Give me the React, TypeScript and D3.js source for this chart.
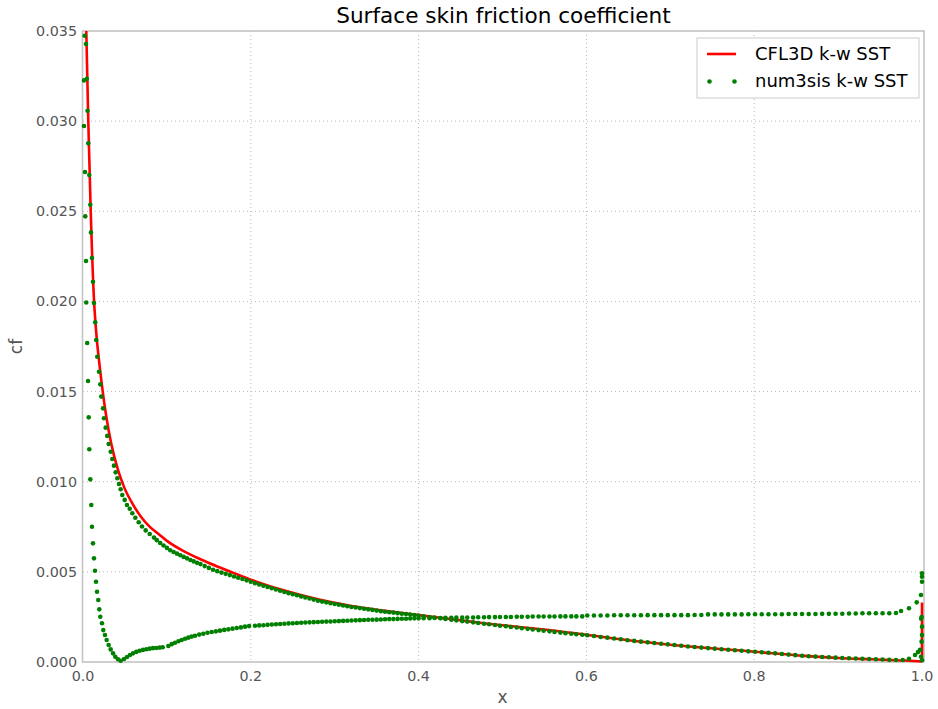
import React from "react";
import * as d3 from "d3";

const xTicks = [0, 0.2, 0.4, 0.6, 0.8, 1.0];
const yTicks = [0, 0.005, 0.01, 0.015, 0.02, 0.025, 0.03, 0.035];

// CFL3D k-w SST (line) - surface part
const cfl3d: [number, number][] = [
  [0.0032, 0.0365], [0.0063, 0.03], [0.0092, 0.025], [0.0131, 0.0201], [0.0159, 0.0182],
  [0.0199, 0.0164], [0.0238, 0.0149], [0.0278, 0.0136], [0.0337, 0.0121], [0.0417, 0.01065],
  [0.049, 0.0097], [0.06, 0.0087], [0.07, 0.008], [0.08, 0.00748], [0.09, 0.0071], [0.1, 0.00672],
  [0.12, 0.00615], [0.14, 0.0057], [0.16, 0.0053], [0.18, 0.00493], [0.2, 0.00457],
  [0.24, 0.00396], [0.28, 0.00348], [0.32, 0.00311], [0.36, 0.00284], [0.4, 0.0026],
  [0.44, 0.00237], [0.48, 0.00214], [0.52, 0.00194], [0.56, 0.00175], [0.6, 0.00151],
  [0.66, 0.00115], [0.72, 0.00087], [0.8, 0.00057], [0.86, 0.00034], [0.9, 0.00022],
  [0.94, 0.00015], [0.98, 0.00008], [1.0, 0.00003],
];
// CFL3D k-w SST (line) - trailing-edge part
const cfl3dTrailing: [number, number][] = [
  [1.0, 0.00003], [1.0, 0.0033],
];

// num3sis k-w SST, upper branch (points)
const num3sisUpper: [number, number][] = [
  [0.0036, 0.03428], [0.0046, 0.03235], [0.0054, 0.03058], [0.0063, 0.02877], [0.0075, 0.02701],
  [0.0087, 0.02536], [0.0095, 0.02383], [0.0107, 0.02241], [0.0119, 0.02109], [0.0131, 0.01991],
  [0.0146, 0.01884], [0.0158, 0.01786], [0.017, 0.01693], [0.0191, 0.0161], [0.0206, 0.0154],
  [0.0218, 0.01472], [0.0238, 0.01407], [0.025, 0.01352], [0.027, 0.013], [0.0289, 0.01254],
  [0.0306, 0.01209], [0.033, 0.01166], [0.0349, 0.01126], [0.0369, 0.01089], [0.0389, 0.01052],
  [0.0409, 0.01019], [0.0429, 0.00987], [0.0449, 0.00958], [0.0468, 0.00926], [0.0497, 0.00899],
  [0.0524, 0.00871], [0.0557, 0.0085], [0.0588, 0.00825], [0.0624, 0.008], [0.0664, 0.00775],
  [0.0703, 0.00752], [0.0747, 0.0073], [0.0795, 0.0071], [0.0846, 0.0069], [0.088, 0.00676],
  [0.092, 0.0066], [0.096, 0.00646], [0.1, 0.00633], [0.104, 0.0062], [0.108, 0.0061],
  [0.112, 0.00601], [0.116, 0.00592], [0.12, 0.00583], [0.124, 0.00575], [0.128, 0.00566],
  [0.132, 0.00558], [0.136, 0.0055], [0.14, 0.00543], [0.145, 0.00532], [0.15, 0.00522],
  [0.155, 0.00512], [0.16, 0.00504], [0.165, 0.00496], [0.17, 0.00489], [0.175, 0.00482],
  [0.18, 0.00474], [0.185, 0.00467], [0.19, 0.0046], [0.195, 0.00453], [0.2, 0.00445],
  [0.205, 0.00437], [0.21, 0.0043], [0.215, 0.00423], [0.22, 0.00416], [0.225, 0.00409],
  [0.23, 0.00402], [0.235, 0.00395], [0.24, 0.00388], [0.245, 0.00382], [0.25, 0.00376],
  [0.255, 0.0037], [0.26, 0.00364], [0.265, 0.00358], [0.27, 0.00352], [0.275, 0.00346],
  [0.28, 0.0034], [0.285, 0.00335], [0.29, 0.00331], [0.295, 0.00326], [0.3, 0.00322],
  [0.305, 0.00318], [0.31, 0.00313], [0.315, 0.00309], [0.32, 0.00305], [0.325, 0.00302],
  [0.33, 0.00299], [0.335, 0.00295], [0.34, 0.00292], [0.345, 0.00289], [0.35, 0.00285],
  [0.355, 0.00282], [0.36, 0.00279], [0.365, 0.00276], [0.37, 0.00274], [0.375, 0.00271],
  [0.38, 0.00268], [0.385, 0.00266], [0.39, 0.00263], [0.395, 0.00261], [0.4, 0.00258],
  [0.406, 0.00254], [0.413, 0.0025], [0.419, 0.00247], [0.426, 0.00243], [0.432, 0.00239],
  [0.439, 0.00235], [0.445, 0.00231], [0.452, 0.00227], [0.458, 0.00224], [0.465, 0.0022],
  [0.471, 0.00216], [0.478, 0.00212], [0.484, 0.00209], [0.491, 0.00205], [0.497, 0.00201],
  [0.504, 0.00198], [0.51, 0.00194], [0.517, 0.00191], [0.523, 0.00187], [0.53, 0.00184],
  [0.536, 0.0018], [0.543, 0.00177], [0.549, 0.00173], [0.556, 0.0017], [0.562, 0.00167],
  [0.569, 0.00163], [0.575, 0.0016], [0.582, 0.00157], [0.588, 0.00154], [0.595, 0.00151],
  [0.601, 0.00148], [0.609, 0.00144], [0.617, 0.00139], [0.625, 0.00135], [0.633, 0.0013],
  [0.641, 0.00126], [0.649, 0.00121], [0.657, 0.00117], [0.665, 0.00113], [0.673, 0.00109],
  [0.681, 0.00105], [0.689, 0.00101], [0.697, 0.00098], [0.705, 0.00094], [0.713, 0.0009],
  [0.721, 0.00086], [0.729, 0.00083], [0.737, 0.0008], [0.745, 0.00077], [0.753, 0.00074],
  [0.761, 0.00071], [0.769, 0.00068], [0.777, 0.00065], [0.785, 0.00062], [0.793, 0.00059],
  [0.801, 0.00057], [0.809, 0.00054], [0.817, 0.00051], [0.825, 0.00048], [0.833, 0.00044],
  [0.841, 0.00041], [0.849, 0.00038], [0.857, 0.00035], [0.865, 0.00032], [0.873, 0.0003],
  [0.881, 0.00028], [0.889, 0.00026], [0.897, 0.00024], [0.905, 0.00022], [0.913, 0.00021],
  [0.921, 0.00019], [0.929, 0.00018], [0.937, 0.00017], [0.945, 0.00015], [0.953, 0.00014],
  [0.961, 0.00012], [0.969, 0.00011], [0.977, 0.00011], [0.9845, 0.00018], [0.9917, 0.00039],
  [0.9952, 0.00055], [0.9976, 0.00067],
];

// num3sis k-w SST, lower branch (points)
const num3sisLower: [number, number][] = [
  [0.002, 0.03474], [0.0012, 0.03226], [0.0012, 0.02973], [0.0024, 0.02718], [0.0027, 0.02472],
  [0.0036, 0.02224], [0.0039, 0.01994], [0.005, 0.01769], [0.006, 0.01559], [0.0068, 0.01357],
  [0.0075, 0.0118], [0.0087, 0.01013], [0.0099, 0.00871], [0.0107, 0.0075], [0.0119, 0.00658],
  [0.0131, 0.00575], [0.0143, 0.00506], [0.0155, 0.00445], [0.0167, 0.0039], [0.0182, 0.00344],
  [0.0194, 0.00292], [0.0206, 0.00251], [0.0226, 0.00215], [0.0242, 0.00177], [0.0262, 0.0015],
  [0.0282, 0.00122], [0.0306, 0.00094], [0.033, 0.0007], [0.0358, 0.00048], [0.0385, 0.00029],
  [0.0417, 0.00015], [0.0449, 0.00007], [0.0489, 0.00017], [0.0525, 0.00028], [0.056, 0.00039],
  [0.0596, 0.00048], [0.0635, 0.00056], [0.0675, 0.00062], [0.0715, 0.00067], [0.0755, 0.00071],
  [0.0795, 0.00074], [0.0835, 0.00077], [0.0875, 0.00078], [0.0915, 0.0008], [0.095, 0.00082],
  [0.1017, 0.00089], [0.1057, 0.00099], [0.1097, 0.00107], [0.1137, 0.00115], [0.1176, 0.00122],
  [0.1216, 0.00129], [0.1255, 0.00135], [0.1295, 0.00141], [0.1335, 0.00146], [0.1385, 0.00152],
  [0.1434, 0.00157], [0.1484, 0.00162], [0.1534, 0.00166], [0.1584, 0.0017], [0.1633, 0.00174],
  [0.1683, 0.00178], [0.1732, 0.00181], [0.1782, 0.00185], [0.1832, 0.00189], [0.1882, 0.00192],
  [0.1931, 0.00196], [0.198, 0.00199], [0.205, 0.00201], [0.21, 0.00203], [0.215, 0.00204],
  [0.22, 0.00206], [0.225, 0.00208], [0.23, 0.00209], [0.235, 0.00211], [0.24, 0.00212],
  [0.245, 0.00214], [0.25, 0.00215], [0.255, 0.00216], [0.26, 0.00218], [0.265, 0.00219],
  [0.27, 0.0022], [0.275, 0.00221], [0.28, 0.00222], [0.285, 0.00223], [0.29, 0.00224],
  [0.295, 0.00225], [0.3, 0.00226], [0.305, 0.00227], [0.31, 0.00228], [0.315, 0.00229],
  [0.32, 0.0023], [0.325, 0.00231], [0.33, 0.00232], [0.335, 0.00233], [0.34, 0.00234],
  [0.345, 0.00234], [0.35, 0.00235], [0.355, 0.00236], [0.36, 0.00237], [0.365, 0.00238],
  [0.37, 0.00238], [0.375, 0.00239], [0.38, 0.0024], [0.385, 0.0024], [0.39, 0.00241],
  [0.395, 0.00242], [0.4, 0.00242], [0.406, 0.00243], [0.413, 0.00243], [0.419, 0.00244],
  [0.426, 0.00244], [0.432, 0.00245], [0.439, 0.00245], [0.445, 0.00246], [0.452, 0.00246],
  [0.458, 0.00247], [0.465, 0.00247], [0.471, 0.00248], [0.478, 0.00248], [0.484, 0.00249],
  [0.491, 0.00249], [0.497, 0.0025], [0.504, 0.0025], [0.51, 0.0025], [0.517, 0.00251],
  [0.523, 0.00251], [0.53, 0.00251], [0.536, 0.00252], [0.543, 0.00252], [0.549, 0.00252],
  [0.556, 0.00252], [0.562, 0.00252], [0.569, 0.00253], [0.575, 0.00253], [0.582, 0.00253],
  [0.588, 0.00253], [0.595, 0.00253], [0.601, 0.00258], [0.609, 0.00258], [0.617, 0.00258],
  [0.625, 0.00258], [0.633, 0.00259], [0.641, 0.00259], [0.649, 0.00259], [0.657, 0.00259],
  [0.665, 0.00259], [0.673, 0.0026], [0.681, 0.0026], [0.689, 0.0026], [0.697, 0.0026],
  [0.705, 0.0026], [0.713, 0.0026], [0.721, 0.0026], [0.729, 0.00261], [0.737, 0.00261],
  [0.745, 0.00264], [0.753, 0.00264], [0.761, 0.00264], [0.769, 0.00264], [0.777, 0.00264],
  [0.785, 0.00264], [0.793, 0.00265], [0.801, 0.00265], [0.809, 0.00265], [0.817, 0.00265],
  [0.825, 0.00265], [0.833, 0.00265], [0.841, 0.00266], [0.849, 0.00266], [0.857, 0.00266],
  [0.865, 0.00266], [0.873, 0.00266], [0.881, 0.00267], [0.889, 0.00267], [0.897, 0.00268],
  [0.905, 0.00268], [0.913, 0.00269], [0.921, 0.00269], [0.929, 0.0027], [0.937, 0.0027],
  [0.945, 0.0027], [0.953, 0.0027], [0.961, 0.0027], [0.969, 0.00272], [0.975, 0.00283],
  [0.9845, 0.00298], [0.9937, 0.00331], [0.9988, 0.00372], [1.0, 0.00445], [1.0, 0.00473],
  [1.0, 0.00492],
];

// num3sis k-w SST, trailing-edge points
const num3sisTrailing: [number, number][] = [
  [0.9995, 0.0025], [0.999, 0.0024], [1.0, 0.00196], [1.0, 0.0015], [0.9995, 0.00113],
  [0.9988, 0.00029], [1.0, 0.0001],
];

const legendLabels = ["CFL3D k-w SST", "num3sis k-w SST"];

const W = 938;
const H = 709;
const L = 83;
const R = 922;
const T = 31;
const B = 662;

export default function App() {
  const x = d3.scaleLinear().domain([0, 1]).range([L, R]);
  const y = d3.scaleLinear().domain([0, 0.035]).range([B, T]);
  const smooth = d3
    .line<[number, number]>()
    .x((d) => x(d[0]))
    .y((d) => y(d[1]))
    .curve(d3.curveMonotoneX);
  const straight = d3
    .line<[number, number]>()
    .x((d) => x(d[0]))
    .y((d) => y(d[1]));
  const fmtX = d3.format(".1f");
  const fmtY = d3.format(".3f");
  const gridColor = "#b8b8b8";
  const tickColor = "#555555";
  const font = "DejaVu Sans, sans-serif";
  const green = "#008000";
  const points = [...num3sisUpper, ...num3sisLower, ...num3sisTrailing];

  return (
    <svg
      width={W}
      height={H}
      style={{ position: "absolute", left: 0, top: 0, background: "#fff" }}
      fontFamily={font}
    >
      <defs>
        <clipPath id="plotclip">
          <rect x={L - 4} y={T} width={R - L + 8} height={B - T + 1} />
        </clipPath>
      </defs>
      <rect x={0} y={0} width={W} height={H} fill="#fff" />
      {/* grid */}
      {xTicks.slice(1, -1).map((t) => (
        <line
          key={"gx" + t}
          x1={x(t)}
          x2={x(t)}
          y1={T}
          y2={B}
          stroke={gridColor}
          strokeWidth={1}
          strokeDasharray="1,3"
        />
      ))}
      {yTicks.slice(1, -1).map((t) => (
        <line
          key={"gy" + t}
          x1={L}
          x2={R}
          y1={y(t)}
          y2={y(t)}
          stroke={gridColor}
          strokeWidth={1}
          strokeDasharray="1,3"
        />
      ))}
      {/* frame */}
      <rect x={L - 0.5} y={T} width={R - L + 2.5} height={B - T} fill="none" stroke="#c4c4c4" strokeWidth={1.6} />
      {/* data */}
      <g clipPath="url(#plotclip)">
        <path d={smooth(cfl3d) || ""} fill="none" stroke="#ff0000" strokeWidth={2.6} strokeLinejoin="round" />
        <path d={straight(cfl3dTrailing) || ""} fill="none" stroke="#ff0000" strokeWidth={2.6} />
        {points.map((d, i) => (
          <circle key={i} cx={x(d[0])} cy={y(d[1])} r={2.3} fill={green} />
        ))}
      </g>
      {/* tick labels */}
      {xTicks.map((t) => (
        <text key={"tx" + t} x={x(t)} y={681} textAnchor="middle" fontSize={14.3} fill={tickColor}>
          {fmtX(t)}
        </text>
      ))}
      {yTicks.map((t) => (
        <text key={"ty" + t} x={77} y={y(t) + 5} textAnchor="end" fontSize={14.3} fill={tickColor}>
          {fmtY(t)}
        </text>
      ))}
      {/* axis labels */}
      <text x={(L + R) / 2} y={703} textAnchor="middle" fontSize={17} fill={tickColor}>
        x
      </text>
      <text
        transform={`translate(22, ${(T + B) / 2}) rotate(-90)`}
        textAnchor="middle"
        fontSize={17}
        fill={tickColor}
      >
        cf
      </text>
      {/* title */}
      <text x={(L + R) / 2 + 1} y={23} textAnchor="middle" fontSize={21.6} fill="#000">
        Surface skin friction coefficient
      </text>
      {/* legend */}
      <g>
        <rect x={697} y={38} width={222} height={60} fill="#fff" stroke="#cccccc" strokeWidth={1} />
        <line x1={707} x2={736} y1={54} y2={54} stroke="#ff0000" strokeWidth={2.6} />
        <text x={755} y={60} fontSize={18} fill="#000">
          {legendLabels[0]}
        </text>
        <circle cx={709.5} cy={81.5} r={2.3} fill={green} />
        <circle cx={734.5} cy={81.5} r={2.3} fill={green} />
        <text x={755} y={87} fontSize={18} fill="#000">
          {legendLabels[1]}
        </text>
      </g>
    </svg>
  );
}
